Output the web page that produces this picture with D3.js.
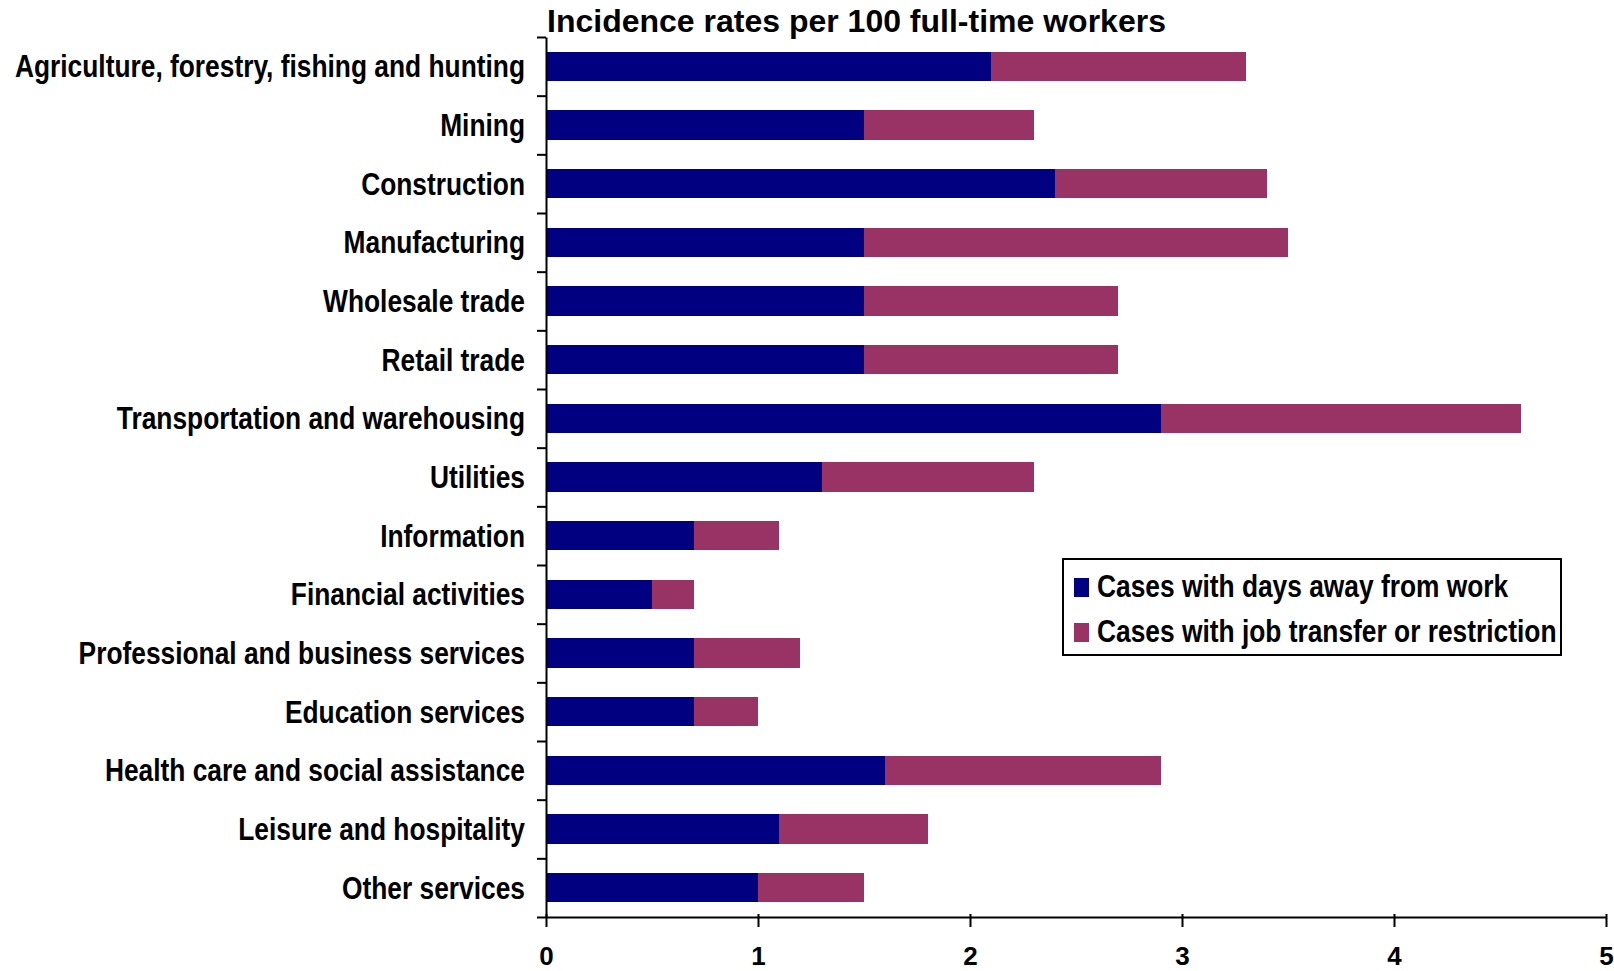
<!DOCTYPE html>
<html>
<head>
<meta charset="utf-8">
<script src="https://cdn.jsdelivr.net/npm/d3@7/dist/d3.min.js"></script>
<style>
  html, body { margin: 0; padding: 0; background: #fff; }
  svg { display: block; }
  text { font-family: "Liberation Sans", Arial, Helvetica, sans-serif; font-weight: bold; fill: #000; }
</style>
</head>
<body>
<svg id="chart" width="1614" height="971"></svg>
<script>
// Industries, top to bottom
const categories = [
  "Agriculture, forestry, fishing and hunting",
  "Mining",
  "Construction",
  "Manufacturing",
  "Wholesale trade",
  "Retail trade",
  "Transportation and warehousing",
  "Utilities",
  "Information",
  "Financial activities",
  "Professional and business services",
  "Education services",
  "Health care and social assistance",
  "Leisure and hospitality",
  "Other services"
];
// Incidence rates per 100 full-time workers
const daysAway    = [2.1, 1.5, 2.4, 1.5, 1.5, 1.5, 2.9, 1.3, 0.7, 0.5, 0.7, 0.7, 1.6, 1.1, 1.0];
const jobTransfer = [1.2, 0.8, 1.0, 2.0, 1.2, 1.2, 1.7, 1.0, 0.4, 0.2, 0.5, 0.3, 1.3, 0.7, 0.5];
const seriesNames = ["Cases with days away from work", "Cases with job transfer or restriction"];
const seriesColors = ["#000080", "#993366"];
const xTicks = [0, 1, 2, 3, 4, 5];
const titleText = "Incidence rates per 100 full-time workers";

const svg = d3.select("#chart");
const plot = { left: 546, right: 1606, top: 37, bottom: 917 };
const squeeze = 0.85; // horizontal condensing of label text

const rows = categories.map((c, i) => ({ cat: c, days: daysAway[i], job: jobTransfer[i] }));
const stack = d3.stack().keys(["days", "job"]);
const layers = stack(rows);

const x = d3.scaleLinear().domain([0, 5]).range([plot.left, plot.right]);
const y = d3.scaleBand().domain(categories).range([plot.top, plot.bottom])
  .paddingInner(0.5).paddingOuter(0.25);
const yEdges = d3.scaleLinear().domain([0, categories.length]).range([plot.top, plot.bottom]);

// Bars
svg.append("g").selectAll("g")
  .data(layers)
  .join("g")
  .attr("fill", (d, i) => seriesColors[i])
  .selectAll("rect")
  .data(d => d)
  .join("rect")
  .attr("x", d => x(d[0]))
  .attr("width", d => x(d[1]) - x(d[0]))
  .attr("y", d => y(d.data.cat))
  .attr("height", y.bandwidth())
  .attr("shape-rendering", "crispEdges");

// Category axis: tick marks between categories
const yTickAxis = svg.append("g")
  .attr("transform", `translate(${plot.left},0)`)
  .call(d3.axisLeft(yEdges).tickValues(d3.range(categories.length + 1))
    .tickFormat("").tickSizeInner(9).tickSizeOuter(0));
yTickAxis.selectAll("path, line").attr("stroke", "#000").attr("stroke-width", 2);

// Category labels
const yLabelAxis = svg.append("g")
  .attr("transform", `translate(${plot.left},0)`)
  .call(d3.axisLeft(y).tickSize(0));
yLabelAxis.select(".domain").remove();
yLabelAxis.selectAll("text")
  .attr("x", 0)
  .attr("dy", "0.35em")
  .attr("text-anchor", "end")
  .attr("transform", `translate(-21,0) scale(${squeeze},1)`)
  .style("font-size", "31px")
  .style("font-family", "'Liberation Sans', Arial, sans-serif")
  .style("font-weight", "bold");

// Value axis
const xAxis = svg.append("g")
  .attr("transform", `translate(0,${plot.bottom})`)
  .call(d3.axisBottom(x).tickValues(xTicks).tickFormat(d3.format("d"))
    .tickSizeInner(10).tickSizeOuter(0));
xAxis.selectAll("path, line").attr("stroke", "#000").attr("stroke-width", 2);
xAxis.selectAll(".tick line").attr("y1", -3);
xAxis.selectAll("text")
  .attr("y", 30)
  .attr("dy", "0.71em")
  .style("font-size", "26px")
  .style("font-family", "'Liberation Sans', Arial, sans-serif")
  .style("font-weight", "bold");

// Title
svg.append("text")
  .attr("x", 547)
  .attr("y", 32)
  .style("font-size", "32px")
  .text(titleText);

// Legend
const legend = svg.append("g").attr("transform", "translate(1063,559)");
legend.append("rect")
  .attr("width", 498).attr("height", 96)
  .attr("fill", "#fff").attr("stroke", "#000").attr("stroke-width", 2);
const item = legend.selectAll("g.item")
  .data(seriesNames)
  .join("g")
  .attr("class", "item")
  .attr("transform", (d, i) => `translate(11,${19 + i * 45})`);
item.append("rect")
  .attr("width", 15).attr("height", 19)
  .attr("fill", (d, i) => seriesColors[i]);
item.append("text")
  .attr("transform", `translate(23,19) scale(${squeeze},1)`)
  .style("font-size", "31px")
  .text(d => d);
</script>
</body>
</html>
